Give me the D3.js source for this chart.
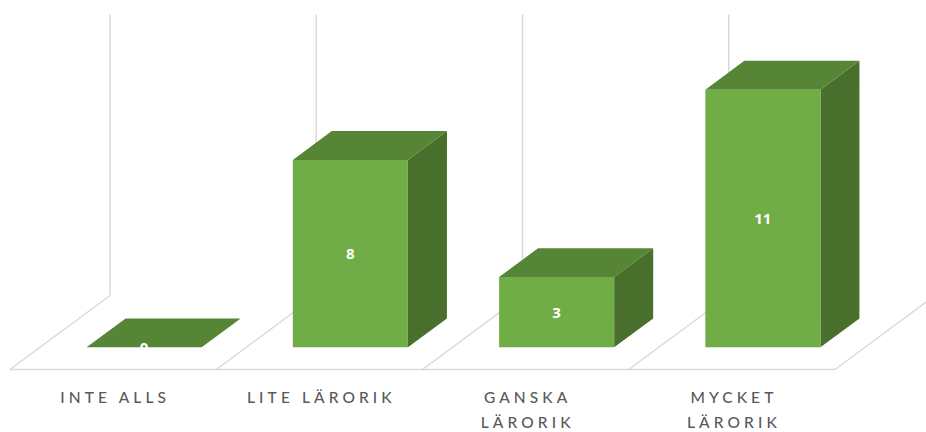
<!DOCTYPE html>
<html>
<head>
<meta charset="utf-8">
<script src="https://cdn.jsdelivr.net/npm/d3@7"></script>
<style>
  html, body { margin: 0; padding: 0; background: #ffffff; }
  svg { display: block; }
</style>
</head>
<body>
<svg id="chart" width="926" height="432"></svg>
<script>
// Survey answers: how instructive the session was
const categories = ["INTE ALLS", "LITE LÄRORIK", "GANSKA\nLÄRORIK", "MYCKET\nLÄRORIK"];
const values = [0, 8, 3, 11];
const valueDomain = [0, 12];

const W = 926, H = 432;
const svg = d3.select("#chart");

// Oblique 3-D projection: floor front edge, depth vector and wall height
const floorY = 369.5;
const depth = { dx: 100, dy: 74 };
const barFront = 0.30, barBack = 0.69;

const xCat = d3.scaleBand().domain(categories).range([10, 835]).padding(0);
const xBar = d3.scaleBand().domain(categories).range([10, 835])
  .paddingInner(0.442).paddingOuter(0.221);
const yH = d3.scaleLinear().domain(valueDomain).range([0, 281]);

function proj(x, v, t) {
  return [x + t * depth.dx, floorY - t * depth.dy - yH(v)];
}

const grid = svg.append("g").attr("fill", "none")
  .attr("stroke", "#d9d9d9").attr("stroke-width", 1.5);

const bounds = categories.map(c => xCat(c)).concat([xCat.range()[1]]);

// back wall verticals
bounds.forEach(b => {
  const p0 = proj(b, 0, 1), p1 = proj(b, valueDomain[1], 1);
  grid.append("line").attr("x1", p0[0]).attr("y1", p0[1])
    .attr("x2", p1[0]).attr("y2", p1[1]);
});
// floor diagonals
bounds.forEach(b => {
  const p0 = proj(b, 0, 0), p1 = proj(b, 0, 1);
  grid.append("line").attr("x1", p0[0]).attr("y1", p0[1])
    .attr("x2", p1[0]).attr("y2", p1[1]);
});
// floor front edge
{
  const p0 = proj(bounds[0], 0, 0), p1 = proj(bounds[bounds.length - 1], 0, 0);
  grid.append("line").attr("x1", p0[0]).attr("y1", p0[1])
    .attr("x2", p1[0]).attr("y2", p1[1]);
}

// bars
const colors = { front: "#70ad47", top: "#568536", side: "#48702c" };
const line = d3.line();
const bars = svg.append("g").selectAll("g").data(categories).join("g");

bars.each(function (c, i) {
  const g = d3.select(this);
  const v = values[i];
  const x0 = xBar(c) + 1, x1 = x0 + xBar.bandwidth();
  // right side
  g.append("path").attr("fill", colors.side).attr("d", line([
    proj(x1, 0, barFront), proj(x1, 0, barBack), proj(x1, v, barBack), proj(x1, v, barFront)
  ]) + "Z");
  // top
  g.append("path").attr("fill", colors.top).attr("d", line([
    proj(x0, v, barFront), proj(x1, v, barFront), proj(x1, v, barBack), proj(x0, v, barBack)
  ]) + "Z");
  // front
  g.append("path").attr("fill", colors.front).attr("d", line([
    proj(x0, 0, barFront), proj(x1, 0, barFront), proj(x1, v, barFront), proj(x0, v, barFront)
  ]) + "Z");
  // value label at the middle of the front face
  const mid = proj((x0 + x1) / 2, v / 2, barFront);
  g.append("text")
    .attr("x", mid[0]).attr("y", mid[1])
    .attr("dy", "0.36em")
    .attr("text-anchor", "middle")
    .attr("font-family", "'Open Sans', Lato, sans-serif")
    .attr("font-weight", "bold")
    .attr("font-size", 15)
    .attr("fill", "#ffffff")
    .text(v);
});

// category axis
const axis = d3.axisBottom(xCat).tickSize(0).tickPadding(0);
const axisG = svg.append("g")
  .attr("transform", `translate(0,${floorY})`)
  .call(axis);
axisG.select(".domain").remove();
const spacing = 4.1;
axisG.selectAll(".tick text")
  .attr("y", 0).attr("dy", null)
  .attr("fill", "#595959")
  .attr("font-family", "Lato, 'Open Sans', sans-serif")
  .attr("font-size", 15.5)
  .attr("font-weight", 500)
  .attr("letter-spacing", spacing)
  .each(function (d) {
    const t = d3.select(this);
    t.text(null);
    d.split("\n").forEach((ln, k) => {
      t.append("tspan").attr("x", spacing / 2).attr("y", 33.5 + k * 25).text(ln);
    });
  });
</script>
</body>
</html>
